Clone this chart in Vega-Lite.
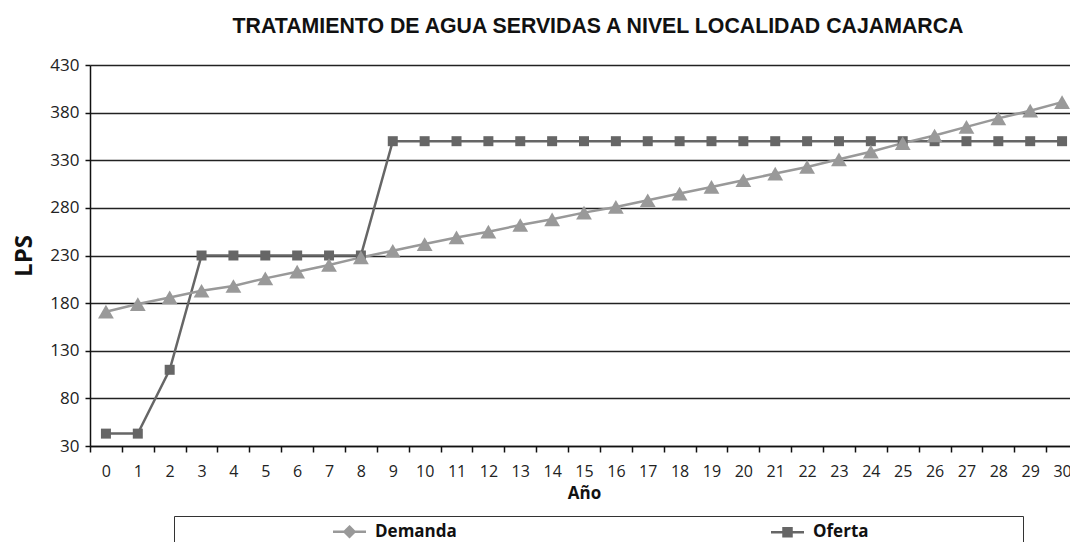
{
  "$schema": "https://vega.github.io/schema/vega-lite/v6.json",
  "width": 988,
  "height": 381,
  "autosize": {"type": "none"},
  "padding": {"left": 90, "top": 65, "right": -8, "bottom": 96},
  "background": "white",
  "title": {
    "text": "TRATAMIENTO DE AGUA SERVIDAS A NIVEL LOCALIDAD CAJAMARCA",
    "font": "Liberation Sans",
    "fontSize": 21.3,
    "fontWeight": "bold",
    "color": "#111111",
    "anchor": "middle",
    "dx": 14,
    "offset": 19
  },
  "config": {
    "view": {"stroke": null},
    "font": "Open Sans"
  },
  "data": {
    "values": [
      {"a": 0, "s": "Oferta", "v": 43},
      {"a": 1, "s": "Oferta", "v": 43},
      {"a": 2, "s": "Oferta", "v": 110},
      {"a": 3, "s": "Oferta", "v": 230},
      {"a": 4, "s": "Oferta", "v": 230},
      {"a": 5, "s": "Oferta", "v": 230},
      {"a": 6, "s": "Oferta", "v": 230},
      {"a": 7, "s": "Oferta", "v": 230},
      {"a": 8, "s": "Oferta", "v": 230},
      {"a": 9, "s": "Oferta", "v": 350},
      {"a": 10, "s": "Oferta", "v": 350},
      {"a": 11, "s": "Oferta", "v": 350},
      {"a": 12, "s": "Oferta", "v": 350},
      {"a": 13, "s": "Oferta", "v": 350},
      {"a": 14, "s": "Oferta", "v": 350},
      {"a": 15, "s": "Oferta", "v": 350},
      {"a": 16, "s": "Oferta", "v": 350},
      {"a": 17, "s": "Oferta", "v": 350},
      {"a": 18, "s": "Oferta", "v": 350},
      {"a": 19, "s": "Oferta", "v": 350},
      {"a": 20, "s": "Oferta", "v": 350},
      {"a": 21, "s": "Oferta", "v": 350},
      {"a": 22, "s": "Oferta", "v": 350},
      {"a": 23, "s": "Oferta", "v": 350},
      {"a": 24, "s": "Oferta", "v": 350},
      {"a": 25, "s": "Oferta", "v": 350},
      {"a": 26, "s": "Oferta", "v": 350},
      {"a": 27, "s": "Oferta", "v": 350},
      {"a": 28, "s": "Oferta", "v": 350},
      {"a": 29, "s": "Oferta", "v": 350},
      {"a": 30, "s": "Oferta", "v": 350},
      {"a": 0, "s": "Demanda", "v": 171},
      {"a": 1, "s": "Demanda", "v": 179},
      {"a": 2, "s": "Demanda", "v": 186},
      {"a": 3, "s": "Demanda", "v": 193},
      {"a": 4, "s": "Demanda", "v": 198},
      {"a": 5, "s": "Demanda", "v": 206},
      {"a": 6, "s": "Demanda", "v": 213},
      {"a": 7, "s": "Demanda", "v": 220},
      {"a": 8, "s": "Demanda", "v": 228},
      {"a": 9, "s": "Demanda", "v": 235},
      {"a": 10, "s": "Demanda", "v": 242},
      {"a": 11, "s": "Demanda", "v": 249},
      {"a": 12, "s": "Demanda", "v": 255},
      {"a": 13, "s": "Demanda", "v": 262},
      {"a": 14, "s": "Demanda", "v": 268},
      {"a": 15, "s": "Demanda", "v": 275},
      {"a": 16, "s": "Demanda", "v": 281},
      {"a": 17, "s": "Demanda", "v": 288},
      {"a": 18, "s": "Demanda", "v": 295},
      {"a": 19, "s": "Demanda", "v": 302},
      {"a": 20, "s": "Demanda", "v": 309},
      {"a": 21, "s": "Demanda", "v": 316},
      {"a": 22, "s": "Demanda", "v": 323},
      {"a": 23, "s": "Demanda", "v": 331},
      {"a": 24, "s": "Demanda", "v": 339},
      {"a": 25, "s": "Demanda", "v": 348},
      {"a": 26, "s": "Demanda", "v": 356},
      {"a": 27, "s": "Demanda", "v": 365},
      {"a": 28, "s": "Demanda", "v": 374},
      {"a": 29, "s": "Demanda", "v": 382},
      {"a": 30, "s": "Demanda", "v": 391}
    ]
  },
  "encoding": {
    "x": {
      "field": "a",
      "type": "ordinal",
      "scale": {"paddingInner": 0, "paddingOuter": 0},
      "axis": {
        "title": "Año",
        "titleFont": "Open Sans",
        "titleFontWeight": "bold",
        "titleFontSize": 17,
        "titleColor": "#111111",
        "titlePadding": 6,
        "labelAngle": 0,
        "labelFont": "Open Sans",
        "labelFontSize": 16,
        "labelColor": "#222222",
        "labelPadding": 11,
        "tickBand": "extent",
        "ticks": true,
        "tickColor": "#111111",
        "tickSize": 6,
        "tickWidth": 1.5,
        "domainColor": "#111111",
        "domainWidth": 1.5,
        "grid": false
      }
    },
    "y": {
      "field": "v",
      "type": "quantitative",
      "scale": {"domain": [30, 430], "nice": false, "zero": false},
      "axis": {
        "values": [30, 80, 130, 180, 230, 280, 330, 380, 430],
        "title": "LPS",
        "titleFont": "Open Sans",
        "titleFontWeight": "bold",
        "titleFontSize": 24,
        "titleColor": "#111111",
        "titlePadding": 13,
        "labelFont": "Open Sans",
        "labelFontSize": 17,
        "labelColor": "#222222",
        "labelPadding": 6,
        "tickColor": "#111111",
        "tickSize": 5,
        "tickWidth": 1.5,
        "domainColor": "#111111",
        "domainWidth": 1.5,
        "grid": true,
        "gridColor": "#222222",
        "gridWidth": 1.5
      }
    }
  },
  "layer": [
    {
      "mark": {"type": "line", "strokeWidth": 2.5},
      "encoding": {
        "color": {
          "field": "s",
          "type": "nominal",
          "scale": {"domain": ["Oferta", "Demanda"], "range": ["#666666", "#999999"]},
          "legend": null
        }
      }
    },
    {
      "transform": [{"filter": "datum.s === 'Oferta'"}],
      "mark": {"type": "point", "shape": "square", "filled": true, "size": 100, "color": "#666666", "opacity": 1}
    },
    {
      "transform": [{"filter": "datum.s === 'Demanda'"}],
      "mark": {"type": "point", "shape": "triangle-up", "filled": true, "size": 250, "color": "#999999", "opacity": 1}
    },
    {
      "transform": [{"filter": "datum.a === 0"}],
      "mark": {"type": "point", "filled": true, "opacity": 1, "size": 0, "strokeWidth": 0},
      "encoding": {
        "fill": {
          "field": "s",
          "type": "nominal",
          "scale": {"domain": ["Demanda", "Oferta"], "range": ["#999999", "#666666"]},
          "legend": {
            "orient": "none", "legendX": 84, "legendY": 451, "direction": "horizontal", "columns": 2,
            "columnPadding": 159, "symbolOffset": 160, "labelOffset": 14, "symbolSize": 400, "symbolStrokeWidth": 2.5,
            "labelFont": "Open Sans", "labelFontWeight": "bold", "labelFontSize": 17, "labelColor": "#111111",
            "padding": 4, "strokeColor": "#333333", "fillColor": "white",
            "title": "\u00a0", "titleOrient": "right", "titlePadding": 150
          }
        },
        "stroke": {
          "field": "s",
          "type": "nominal",
          "scale": {"domain": ["Demanda", "Oferta"], "range": ["#999999", "#666666"]},
          "legend": {
            "orient": "none", "legendX": 84, "legendY": 451, "direction": "horizontal", "columns": 2,
            "columnPadding": 159, "symbolOffset": 160, "labelOffset": 14, "symbolSize": 400, "symbolStrokeWidth": 2.5,
            "labelFont": "Open Sans", "labelFontWeight": "bold", "labelFontSize": 17, "labelColor": "#111111",
            "padding": 4, "strokeColor": "#333333", "fillColor": "white",
            "title": "\u00a0", "titleOrient": "right", "titlePadding": 150
          }
        },
        "shape": {
          "field": "s",
          "type": "nominal",
          "scale": {"domain": ["Demanda", "Oferta"], "range": ["M-1.65,0H1.65M0,-0.5L0.5,0L0,0.5L-0.5,0Z", "M-1.65,0H1.65M-0.4,-0.4H0.4V0.4H-0.4Z"]},
          "legend": {
            "orient": "none", "legendX": 84, "legendY": 451, "direction": "horizontal", "columns": 2,
            "columnPadding": 159, "symbolOffset": 160, "labelOffset": 14, "symbolSize": 400, "symbolStrokeWidth": 2.5,
            "labelFont": "Open Sans", "labelFontWeight": "bold", "labelFontSize": 17, "labelColor": "#111111",
            "padding": 4, "strokeColor": "#333333", "fillColor": "white",
            "title": "\u00a0", "titleOrient": "right", "titlePadding": 150
          }
        }
      }
    }
  ]
}
